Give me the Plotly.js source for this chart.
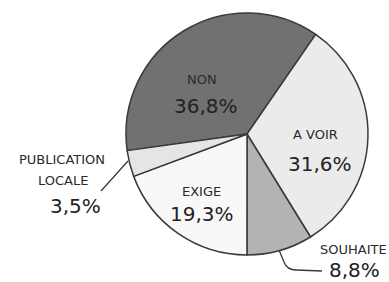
<!DOCTYPE html>
<html>
<head>
<meta charset="utf-8">
<script src="https://cdn.plot.ly/plotly-3.0.1.min.js"></script>
<style>html,body{margin:0;padding:0;background:#fff;}#chart{width:389px;height:282px;}</style>
</head>
<body>
<div id="chart"></div>
<script>
const categories = ["NON", "A VOIR", "SOUHAITE", "EXIGE", "PUBLICATION LOCALE"];
const values = [36.8, 31.6, 8.8, 19.3, 3.5];
const valueLabels = ["36,8%", "31,6%", "8,8%", "19,3%", "3,5%"];
const colors = ["#717171", "#ebebeb", "#b3b3b3", "#f8f8f8", "#e5e5e5"];

const W = 389, H = 282;
const px = x => x / W;
const py = y => 1 - y / H;

const trace = {
  type: "pie",
  labels: categories,
  values: values,
  sort: false,
  direction: "clockwise",
  rotation: -97.9,
  textinfo: "none",
  hoverinfo: "none",
  marker: { colors: colors, line: { color: "#3a3a3a", width: 1.5 } },
  domain: { x: [px(126), px(368)], y: [py(255), py(13)] },
  showlegend: false
};

const labelFont = { family: "DejaVu Sans", size: 13, color: "#2a2a2a" };
const pctFont = { family: "DejaVu Sans", size: 20, color: "#222" };

function ann(text, x, y, font) {
  return { text: text, x: px(x), y: py(y), xref: "paper", yref: "paper",
           showarrow: false, font: font, xanchor: "center", yanchor: "middle" };
}

const annotations = [
  ann(categories[0], 202, 79, labelFont),
  ann(valueLabels[0], 206, 106, pctFont),
  ann(categories[1], 315, 134, labelFont),
  ann(valueLabels[1], 320, 164, pctFont),
  ann(categories[3], 201, 191, labelFont),
  ann(valueLabels[3], 202, 214, pctFont),
  ann("PUBLICATION", 62, 159, labelFont),
  ann("LOCALE", 63, 180, labelFont),
  ann(valueLabels[4], 75, 206, pctFont),
  ann(categories[2], 353, 250, labelFont),
  ann(valueLabels[2], 354, 270, pctFont)
];

const shapes = [
  { type: "line", xref: "paper", yref: "paper", x0: px(101), y0: py(191), x1: px(128), y1: py(161),
    line: { color: "#3a3a3a", width: 1.3 } },
  { type: "path", xref: "paper", yref: "paper",
    path: "M " + px(279) + "," + py(250) + " L " + px(284) + "," + py(262) + " Q " + px(287) + "," + py(270) + " " + px(296) + "," + py(270) + " L " + px(322) + "," + py(271),
    line: { color: "#3a3a3a", width: 1.3 } }
];

const layout = {
  width: W, height: H,
  margin: { l: 0, r: 0, t: 0, b: 0 },
  paper_bgcolor: "#fff",
  plot_bgcolor: "#fff",
  annotations: annotations,
  shapes: shapes
};

Plotly.newPlot("chart", [trace], layout, { staticPlot: true, displayModeBar: false });
</script>
</body>
</html>
